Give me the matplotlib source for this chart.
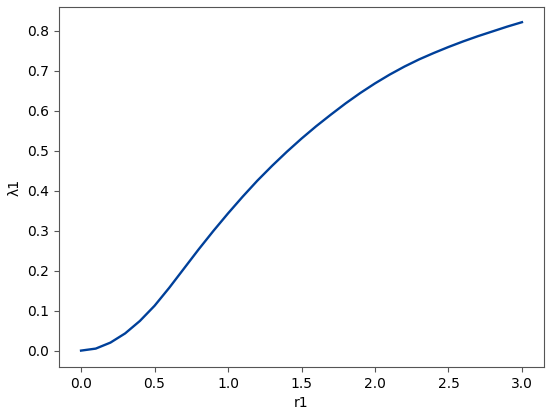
import matplotlib
matplotlib.use('Agg')
import matplotlib.pyplot as plt

r1 = [0.0, 0.1, 0.2, 0.3, 0.4, 0.5, 0.6, 0.7, 0.8, 0.9, 1.0,
      1.1, 1.2, 1.3, 1.4, 1.5, 1.6, 1.7, 1.8, 1.9, 2.0,
      2.1, 2.2, 2.3, 2.4, 2.5, 2.6, 2.7, 2.8, 2.9, 3.0]
lam1 = [0.0, 0.005, 0.020, 0.043, 0.074, 0.112, 0.157, 0.205, 0.253, 0.299, 0.343,
        0.385, 0.425, 0.462, 0.497, 0.530, 0.561, 0.590, 0.618, 0.644, 0.668,
        0.690, 0.710, 0.728, 0.744, 0.759, 0.773, 0.786, 0.798, 0.810, 0.821]

fig = plt.figure(figsize=(5.5, 4.15), dpi=100)
ax = fig.add_axes([59 / 550, 48 / 415, 485 / 550, 360 / 415])

ax.plot(r1, lam1, color='#00409a', linewidth=1.7)

ax.set_xticks([0.0, 0.5, 1.0, 1.5, 2.0, 2.5, 3.0])
ax.set_yticks([0.0, 0.1, 0.2, 0.3, 0.4, 0.5, 0.6, 0.7, 0.8])
ax.set_xlim(-0.15, 3.15)
ax.set_ylim(-0.041, 0.859)
ax.set_xlabel('r1')
ax.set_ylabel('λ1')

for s in ax.spines.values():
    s.set_color('#555555')
ax.tick_params(colors='#555555', labelcolor='black')

fig.savefig('out.png', dpi=100)
